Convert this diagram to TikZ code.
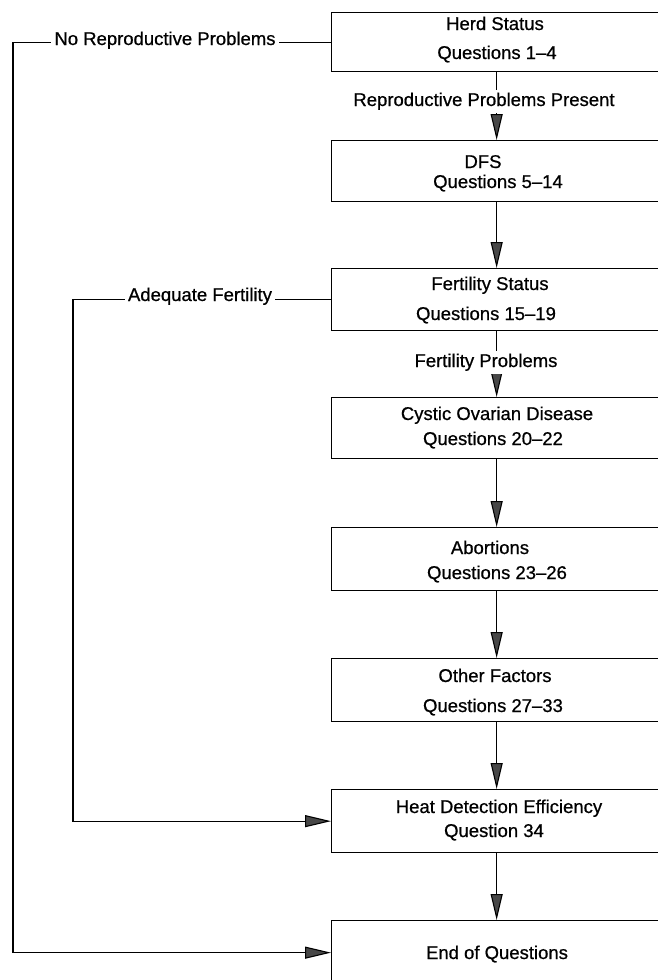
\documentclass[tikz,border=0pt]{standalone}
\usepackage{fontspec}
\setmainfont{Liberation Sans}
\newfontfamily\diagfont[FakeBold=0.7]{Liberation Sans}
\usetikzlibrary{arrows.meta}
\begin{document}
\begin{tikzpicture}[x=1pt,y=-1pt,
  box/.style={draw,line width=1.3pt,minimum width=330pt,inner sep=0pt,anchor=north west},
  txt/.style={font=\diagfont\fontsize{18.5}{22}\selectfont,inner sep=0pt,anchor=base},
  lbl/.style={font=\diagfont\fontsize{18.5}{22}\selectfont,fill=white,inner sep=3pt,anchor=base},
  arr/.style={line width=1.1pt,-{Triangle[length=26pt,width=12pt,fill=black!72]}},
  ln/.style={line width=1.1pt}]
\useasboundingbox (0,0) rectangle (658,980);
\clip (0,0) rectangle (658,980);
% boxes
\node[box,minimum height=59pt] (herd) at (331,12) {};
\node[box,minimum height=61pt] (dfs) at (331,140) {};
\node[box,minimum height=62pt] (fert) at (331,268) {};
\node[box,minimum height=61pt] (cyst) at (331,397) {};
\node[box,minimum height=63pt] (abor) at (331,527) {};
\node[box,minimum height=63pt] (other) at (331,658) {};
\node[box,minimum height=63pt] (heat) at (331,789) {};
\node[box,minimum height=64pt] (endq) at (331,920) {};
% box texts
\node[txt] (herdA) at (495,30) {Herd Status};
\node[txt] (herdB) at (497,59) {Questions 1–4};
\node[txt] (dfsA) at (483,168) {DFS};
\node[txt] (dfsB) at (498,188) {Questions 5–14};
\node[txt] (fertA) at (490,290) {Fertility Status};
\node[txt] (fertB) at (486,320) {Questions 15–19};
\node[txt] (cystA) at (497,420) {Cystic Ovarian Disease};
\node[txt] (cystB) at (493,445) {Questions 20–22};
\node[txt] (aborA) at (490,554) {Abortions};
\node[txt] (aborB) at (497,579) {Questions 23–26};
\node[txt] (otherA) at (495,682) {Other Factors};
\node[txt] (otherB) at (493,712) {Questions 27–33};
\node[txt] (heatA) at (499,813) {Heat Detection Efficiency};
\node[txt] (heatB) at (494,837) {Question 34};
\node[txt] (endA) at (497,959) {End of Questions};
% vertical arrows
\draw[arr] (herd.south) -- (dfs.north);
\draw[arr] (dfs.south) -- (fert.north);
\draw[arr] (fert.south) -- (cyst.north);
\draw[arr] (cyst.south) -- (abor.north);
\draw[arr] (abor.south) -- (other.north);
\draw[arr] (other.south) -- (heat.north);
\draw[arr] (heat.south) -- (endq.north);
% side connectors
\coordinate (nl) at (13,0);
\coordinate (af) at (73,0);
\draw[arr] (herd.west) -- (herd.west -| nl) -- (endq.west -| nl) -- (endq.west);
\draw[arr] (fert.west) -- (fert.west -| af) -- (heat.west -| af) -- (heat.west);
% labels
\node[lbl] (rpp) at (484,106) {Reproductive Problems Present};
\node[lbl] (fp) at (486,367) {Fertility Problems};
\node[lbl] (nrp) at (165,45) {No Reproductive Problems};
\node[lbl] (adf) at (200,301) {Adequate Fertility};
\end{tikzpicture}
\end{document}
